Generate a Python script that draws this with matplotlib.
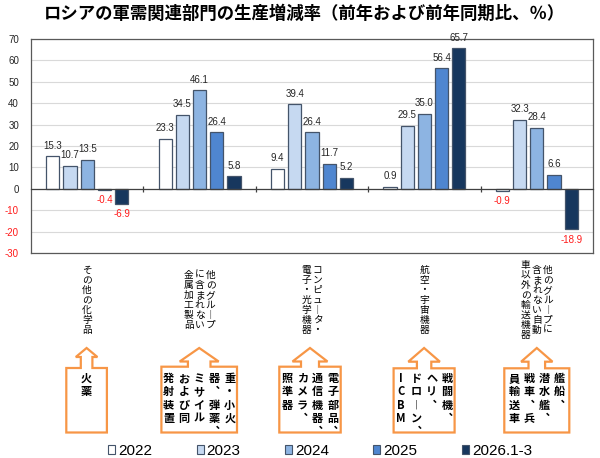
import matplotlib
matplotlib.use('Agg')
import matplotlib.pyplot as plt
from matplotlib import font_manager, transforms
from matplotlib.patches import Polygon, Patch
from matplotlib.ft2font import FT2Font
import numpy as np

# ---- data ----
title = 'ロシアの軍需関連部門の生産増減率（前年および前年同期比、％）'

# category labels, columns listed right -> left (vertical writing)
cat_cols = [
    ['その他の化学品'],
    ['他のグループ', 'に含まれない', '金属加工製品'],
    ['コンピュータ・', '電子・光学機器'],
    ['航空・宇宙機器'],
    ['他のグループに', '含まれない自動', '車以外の輸送機器'],
]
# callout texts under each category, columns right -> left
callout_cols = [
    ['火薬'],
    ['重・小火', '器、弾薬、', 'ミサイル', 'および同', '発射装置'],
    ['電子部品、', '通信機器、', 'カメラ、', '照準器'],
    ['戦闘機、', 'ヘリ、', 'ドローン、', 'ICBM'],
    ['艦船、', '潜水艦、', '戦車、兵', '員輸送車'],
]

series_names = ['2022', '2023', '2024', '2025', '2026.1-3']
v2022 = [15.3, 23.3, 9.4, 0.9, -0.9]
v2023 = [10.7, 34.5, 39.4, 29.5, 32.3]
v2024 = [13.5, 46.1, 26.4, 35.0, 28.4]
v2025 = [-0.4, 26.4, 11.7, 56.4, 6.6]
v2026 = [-6.9, 5.8, 5.2, 65.7, -18.9]
series_vals = [v2022, v2023, v2024, v2025, v2026]
colors = ['#ffffff', '#c6d9f1', '#8db4e2', '#4f86d0', '#17375e']
yticks = list(range(-30, 71, 10))

# ---- fonts ----
JP = 'Noto Sans CJK JP'
plt.rcParams['font.family'] = ['Liberation Sans', JP, 'DejaVu Sans']


def has_font(name):
    try:
        font_manager.findfont(name, fallback_to_default=False)
        return True
    except ValueError:
        return False


NARROW = 'Liberation Sans Narrow' if has_font('Liberation Sans Narrow') else 'Liberation Sans'

# vertical forms for chars that need rotating in tategaki
try:
    cmap = FT2Font(font_manager.findfont(JP)).get_charmap()
except Exception:
    cmap = {}
VERT = {
    'ー': '︱' if ord('︱') in cmap else '｜',
    '、': '︑' if ord('︑') in cmap else '、',
}

W, H = 600, 458
fig = plt.figure(figsize=(W / 100, H / 100), dpi=100)
ax = fig.add_axes([31 / W, 1 - 253 / H, (593 - 31) / W, (253 - 39) / H])


def fy(py):
    return 1 - py / H


x = np.arange(len(cat_cols))
PITCH = 0.153
BW = 0.117
EDGE = '#44546a'

for j, (name, vals) in enumerate(zip(series_names, series_vals)):
    xs = x + (j - 2) * PITCH
    ax.bar(xs, vals, width=BW, color=colors[j], edgecolor=EDGE, linewidth=0.9, zorder=3)
    for xi, v in zip(xs, vals):
        ax.annotate(f'{v:.1f}', (xi, v), xytext=(0, 4 if v >= 0 else -4),
                    textcoords='offset points', ha='center',
                    va='bottom' if v >= 0 else 'top', fontsize=7,
                    family=[NARROW], color='#262626' if v >= 0 else '#ff1a1a')

ax.set_xlim(-0.5, len(cat_cols) - 0.5)
ax.set_ylim(-30, 70)
ax.set_yticks(yticks)
ax.set_yticklabels([str(t) for t in yticks])
for t, lbl in zip(yticks, ax.get_yticklabels()):
    lbl.set_color('#ff1a1a' if t < 0 else '#262626')
ax.tick_params(axis='y', length=0, pad=8.6, labelsize=7)
ax.tick_params(axis='x', length=0, labelbottom=False)
ax.grid(axis='y', color='#d9d9d9', linewidth=0.8)
ax.set_axisbelow(True)
for sp in ax.spines.values():
    sp.set_color('#595959')
    sp.set_linewidth(0.9)

# zero line with category boundary ticks
sec = ax.secondary_xaxis(30 / 100)
sec.set_xticks(x[:-1] + 0.5)
sec.set_xticklabels([])
sec.tick_params(direction='inout', length=4.5, width=0.9, color='#404040')
sec.spines['bottom'].set_color('#404040')
sec.spines['bottom'].set_linewidth(0.9)
sec.set_zorder(4)

fig.text(0.508, fy(13.5), title, ha='center', va='center', fontsize=12.5,
         fontweight='bold', family=[JP, 'DejaVu Sans'])

PX = ax.get_position().width * W / len(cat_cols)  # pixels per category
blend = transforms.blended_transform_factory(ax.transData, fig.transFigure)


def vtext(xc, cols, col_px, y_first, row_px, size, weight='normal'):
    n = len(cols)
    for c, s in enumerate(cols):
        xx = xc + ((n - 1) / 2 - c) * col_px / PX
        for k, ch in enumerate(s):
            fig.text(xx, fy(y_first + k * row_px), VERT.get(ch, ch),
                     transform=blend, ha='center', va='center', fontsize=size,
                     fontweight=weight, family=[JP, 'DejaVu Sans'])


# category labels, columns centred vertically around y=300
for i, cols in enumerate(cat_cols):
    n = len(cols)
    for c, s in enumerate(cols):
        xx = i + ((n - 1) / 2 - c) * 11 / PX
        y0 = 300 - (len(s) - 1) * 10 / 2
        for k, ch in enumerate(s):
            fig.text(xx, fy(y0 + k * 10), VERT.get(ch, ch), transform=blend,
                     ha='center', va='center', fontsize=7,
                     family=[JP, 'DejaVu Sans'])

# callouts: box half width, head half width, neck half width, head base y, shoulder y
box_hw = [20.3, 37.8, 30.7, 30.5, 32.5]
head_hw = [10.8, 19.5, 17.5, 15.8, 15.7]
neck_hw = [5.8, 11.3, 9.0, 7.2, 8.3]
base_y = [357, 361.5, 361.5, 361.7, 361.7]
shoulder_y = [368, 366.7, 366.7, 368.3, 368.3]
box_off = [-0.6, -0.4, -2.0, -0.3, 0.0]
TIP_Y, BOTTOM_Y = 348, 432.5
ORANGE = '#f79646'

for i in range(len(cat_cols)):
    bw, hw, nw = box_hw[i], head_hw[i], neck_hw[i]
    by, sy = base_y[i], shoulder_y[i]
    pts_px = [(0, TIP_Y), (hw, by), (nw, by), (nw, sy), (bw, sy), (bw, BOTTOM_Y),
              (-bw, BOTTOM_Y), (-bw, sy), (-nw, sy), (-nw, by), (-hw, by)]
    pts = [(i + (box_off[i] + dx) / PX, fy(py)) for dx, py in pts_px]
    poly = Polygon(pts, closed=True, facecolor='white', edgecolor=ORANGE,
                   linewidth=1.6, transform=blend, clip_on=False, joinstyle='miter')
    fig.add_artist(poly)
    vtext(i + box_off[i] / PX, callout_cols[i], 15.3, 378.5, 13.3, 8, 'bold')

handles = [Patch(facecolor=c, edgecolor=EDGE, linewidth=0.8) for c in colors]
fig.legend(handles, series_names, loc='center', bbox_to_anchor=(320 / W, fy(451)),
           ncol=5, frameon=False, fontsize=11, handlelength=0.46, handleheight=0.46,
           handletextpad=0.2, columnspacing=2.9, borderpad=0, borderaxespad=0)

fig.savefig('out.png', dpi=100)
